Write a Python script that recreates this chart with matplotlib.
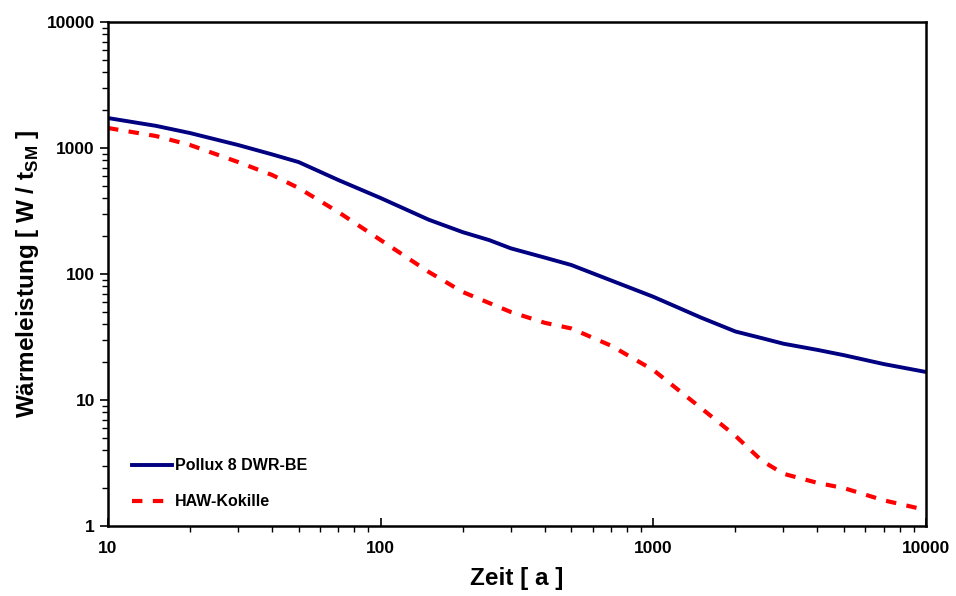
import matplotlib
matplotlib.use("Agg")
import matplotlib.pyplot as plt
from matplotlib.ticker import LogLocator, FixedLocator, NullFormatter

plt.rcParams["font.family"] = ["Liberation Sans", "DejaVu Sans"]
plt.rcParams["font.weight"] = "bold"
plt.rcParams["mathtext.fontset"] = "custom"
plt.rcParams["mathtext.bf"] = "Liberation Sans:bold"
plt.rcParams["mathtext.rm"] = "Liberation Sans:bold"

# Zeit in Jahren
zeit_pollux = [10, 15, 20, 30, 40, 50, 70, 100, 150, 200, 250, 300, 400, 500,
               700, 1000, 1500, 2000, 2500, 3000, 4000, 5000, 7000, 10000]
leistung_pollux = [1730, 1500, 1315, 1057, 890, 774, 557, 401, 270, 215, 186,
                   160, 135, 118, 89, 66, 45, 35, 31, 28, 25, 22.7, 19.3, 16.7]

zeit_haw = [10, 15, 20, 30, 40, 50, 70, 100, 150, 200, 300, 400, 500, 700,
            1000, 1500, 2000, 2500, 3000, 4000, 5000, 7000, 10000]
leistung_haw = [1442, 1245, 1057, 774, 611, 482, 310, 186, 104, 72, 50, 41,
                37, 27, 17.3, 8.6, 5.2, 3.3, 2.6, 2.2, 2.0, 1.6, 1.34]

fig = plt.figure(figsize=(9.56, 5.96), dpi=100)
ax = fig.add_axes([0.113, 0.1174, 0.8556, 0.8456])

ax.plot(zeit_pollux, leistung_pollux, color="#000080", lw=2.8,
        label="Pollux 8 DWR-BE")
ax.plot(zeit_haw, leistung_haw, color="#ff0000", lw=3.0,
        dashes=(2.5, 2.5), label="HAW-Kokille")

ax.set_xscale("log")
ax.set_yscale("log")
ax.set_xlim(10, 10000)
ax.set_ylim(1, 10000)

ax.xaxis.set_major_locator(FixedLocator([10, 100, 1000, 10000]))
ax.yaxis.set_major_locator(FixedLocator([1, 10, 100, 1000, 10000]))
ax.xaxis.set_minor_locator(LogLocator(base=10, subs=range(2, 10)))
ax.yaxis.set_minor_locator(LogLocator(base=10, subs=range(2, 10)))
ax.xaxis.set_minor_formatter(NullFormatter())
ax.yaxis.set_minor_formatter(NullFormatter())
ax.set_xticklabels(["10", "100", "1000", "10000"])
ax.set_yticklabels(["1", "10", "100", "1000", "10000"])

ax.tick_params(axis="x", which="major", direction="in", length=6, width=1.2,
               labelsize=12.5, pad=11)
ax.tick_params(axis="x", which="minor", direction="out", length=4, width=1)
ax.tick_params(axis="y", which="major", direction="out", length=6, width=1.2,
               labelsize=12.5)
ax.tick_params(axis="y", which="minor", direction="out", length=4, width=1)
for lbl in ax.get_xticklabels() + ax.get_yticklabels():
    lbl.set_fontweight("bold")

for sp in ax.spines.values():
    sp.set_linewidth(1.8)
    sp.set_color("black")

ax.set_xlabel("Zeit [ a ]", fontsize=17.5, fontweight="bold", labelpad=8)
ax.set_ylabel(r"Wärmeleistung [ W / t$_\mathbf{SM}$ ]", fontsize=17.5,
              fontweight="bold", labelpad=4)

leg = ax.legend(loc="lower left", bbox_to_anchor=(0.012, 0.005), frameon=False,
                prop={"weight": "bold", "size": 11.5}, handlelength=2.5,
                handletextpad=0.2, labelspacing=1.3)

fig.savefig("out.png", dpi=100)
